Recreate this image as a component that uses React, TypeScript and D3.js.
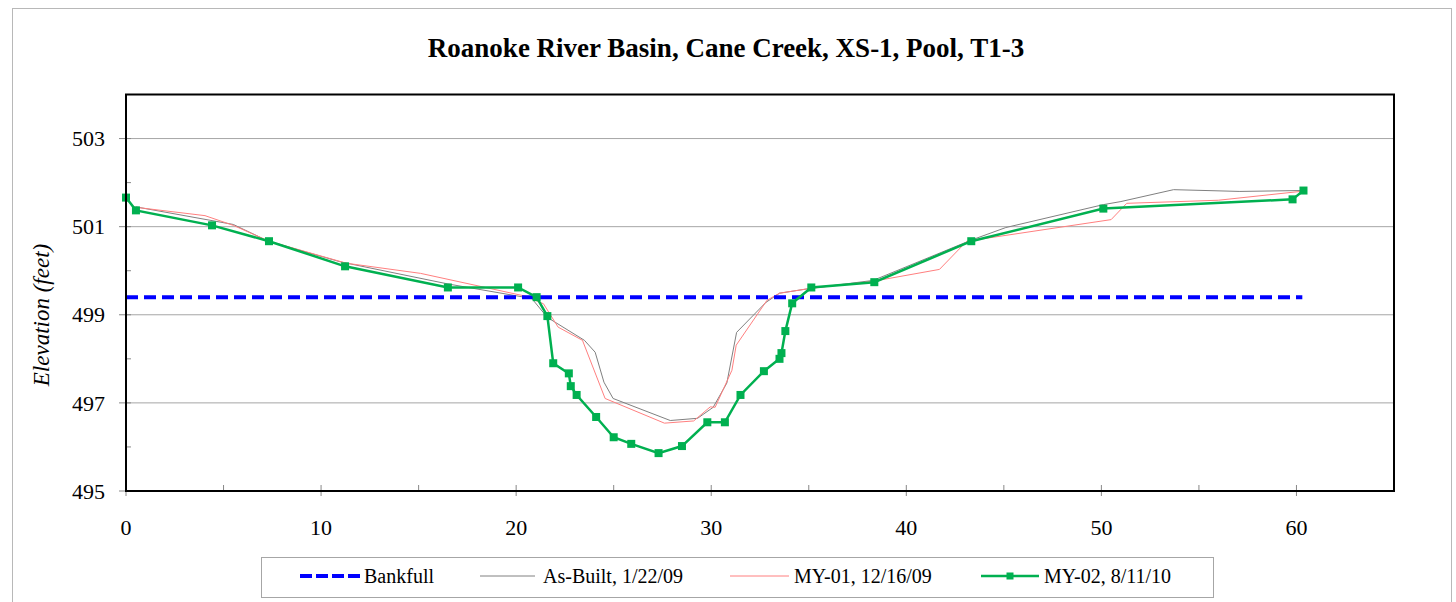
import React from "react";
import * as d3 from "d3";

const xTicks = [0, 10, 20, 30, 40, 50, 60];
const xMinorTicks = [5, 15, 25, 35, 45, 55];
const yTicks = [495, 497, 499, 501, 503];
const yMinorTicks = [496, 498, 500, 502, 504];
const yGrid = [497, 499, 501, 503];

const bankfullX = [0, 60.3];
const bankfullY = [499.4, 499.4];

const asBuiltX = [0.5, 5.5, 7.3, 11.0, 16.5, 20.8, 21.6, 23.5, 24.05, 24.5, 24.97, 27.9, 29.3, 30.1, 30.8, 31.3, 32.8, 33.5, 35.1, 38.3, 43.3, 45.1, 50.1, 51.0, 53.7, 57.1, 60.2];
const asBuiltY = [501.45, 501.05, 500.67, 500.2, 499.7, 499.37, 498.94, 498.42, 498.15, 497.47, 497.1, 496.6, 496.65, 496.9, 497.45, 498.6, 499.28, 499.49, 499.6, 499.78, 500.69, 500.98, 501.5, 501.57, 501.84, 501.8, 501.82];

const my01X = [0.5, 4.05, 5.5, 7.33, 11.3, 15.1, 20.5, 21.4, 22.15, 23.4, 24.56, 27.6, 29.1, 29.95, 30.2, 31.06, 31.28, 32.86, 33.5, 35.1, 38.3, 41.7, 43.1, 50.5, 51.3, 56.0, 60.2];
const my01Y = [501.44, 501.25, 501.03, 500.67, 500.17, 499.94, 499.42, 499.25, 498.72, 498.42, 497.1, 496.54, 496.59, 496.91, 496.9, 497.74, 498.31, 499.33, 499.49, 499.6, 499.76, 500.03, 500.67, 501.16, 501.53, 501.6, 501.8];

const my02X = [0, 0.51, 4.41, 7.33, 11.23, 16.5, 20.1, 21.05, 21.6, 21.9, 22.7, 22.8, 23.1, 24.1, 25.0, 25.9, 27.3, 28.5, 29.8, 30.7, 31.5, 32.7, 33.5, 33.6, 33.8, 34.15, 35.13, 38.36, 43.33, 50.1, 59.8, 60.36];
const my02Y = [501.66, 501.37, 501.03, 500.67, 500.1, 499.62, 499.62, 499.4, 498.97, 497.9, 497.67, 497.38, 497.18, 496.68, 496.22, 496.07, 495.86, 496.02, 496.56, 496.56, 497.18, 497.72, 498.0, 498.13, 498.63, 499.26, 499.62, 499.74, 500.67, 501.41, 501.62, 501.82];

const title = "Roanoke River Basin, Cane Creek, XS-1, Pool, T1-3";
const yLabel = "Elevation (feet)";
const legendLabels = ["Bankfull", "As-Built, 1/22/09", "MY-01, 12/16/09", "MY-02, 8/11/10"];

const FONT = "Liberation Serif, DejaVu Serif, serif";

export default function App() {
  const W = 1456, H = 602;
  const L = 126, R = 1394, T = 94.5, B = 491;
  const x = d3.scaleLinear().domain([0, 65]).range([L, R]);
  const y = d3.scaleLinear().domain([495, 504]).range([B, T]);
  const zip = (xs: number[], ys: number[]) => xs.map((v, i) => [v, ys[i]] as [number, number]);
  const line = d3.line<[number, number]>().x(d => x(d[0])).y(d => y(d[1]));

  const green = "#00B050";
  const my02 = zip(my02X, my02Y);

  const legendY = 576;
  const legendItems = [
    { x1: 300, x2: 361, tx: 364 },
    { x1: 480, x2: 535, tx: 543 },
    { x1: 730, x2: 789, tx: 794 },
    { x1: 981, x2: 1039, tx: 1044 },
  ];
  const ts = { fontFamily: FONT };

  return (
    <svg width={W} height={H} style={{ position: "absolute", left: 0, top: 0, background: "#fff" }}>
      <rect x={12.5} y={8.5} width={1439} height={620} fill="#fff" stroke="#b8b8b8" strokeWidth={1} />
      <text x={726} y={57} textAnchor="middle" fontSize={27} fontWeight="bold" style={ts}>{title}</text>

      {yGrid.map(v => (
        <line key={"g" + v} x1={L} x2={R} y1={y(v)} y2={y(v)} stroke="#a6a6a6" strokeWidth={1} />
      ))}
      {yTicks.map(v => (
        <g key={"yt" + v}>
          <line x1={L - 7} x2={L + 5} y1={y(v)} y2={y(v)} stroke="#888" strokeWidth={1} />
          <text x={105} y={y(v)} dy="0.35em" textAnchor="end" fontSize={22} style={ts}>{v}</text>
        </g>
      ))}
      {yMinorTicks.map(v => (
        <line key={"ym" + v} x1={L} x2={L + 5} y1={y(v)} y2={y(v)} stroke="#888" strokeWidth={1} />
      ))}
      {xTicks.map(v => (
        <g key={"xt" + v}>
          <line x1={x(v)} x2={x(v)} y1={B - 6} y2={B + 5} stroke="#888" strokeWidth={1} />
          <text x={x(v)} y={527} dy="0.35em" textAnchor="middle" fontSize={22} style={ts}>{v}</text>
        </g>
      ))}
      {xMinorTicks.map(v => (
        <line key={"xm" + v} x1={x(v)} x2={x(v)} y1={B - 6} y2={B} stroke="#888" strokeWidth={1} />
      ))}

      <text transform={`translate(49,315) rotate(-90)`} textAnchor="middle" fontSize={23} fontStyle="italic" style={ts}>{yLabel}</text>

      <path d={line(zip(asBuiltX, asBuiltY)) || ""} fill="none" stroke="#808080" strokeWidth={1} />
      <path d={line(zip(my01X, my01Y)) || ""} fill="none" stroke="#ff7f7f" strokeWidth={1} />
      <path d={line(zip(bankfullX, bankfullY)) || ""} fill="none" stroke="#0000ff" strokeWidth={4} strokeDasharray="12 6" />
      <path d={line(my02) || ""} fill="none" stroke={green} strokeWidth={2.5} />
      {my02.map((d, i) => (
        <rect key={"m" + i} x={x(d[0]) - 4} y={y(d[1]) - 4} width={8} height={8} fill={green} />
      ))}

      <rect x={L} y={T} width={R - L} height={B - T} fill="none" stroke="#000" strokeWidth={2} />

      <rect x={261.5} y={557.5} width={952} height={40} fill="#fff" stroke="#a6a6a6" strokeWidth={1} />
      <line x1={legendItems[0].x1} x2={legendItems[0].x2} y1={legendY} y2={legendY} stroke="#0000ff" strokeWidth={4} strokeDasharray="12 4" />
      <line x1={legendItems[1].x1} x2={legendItems[1].x2} y1={legendY} y2={legendY} stroke="#808080" strokeWidth={1} />
      <line x1={legendItems[2].x1} x2={legendItems[2].x2} y1={legendY} y2={legendY} stroke="#ff7f7f" strokeWidth={1} />
      <line x1={legendItems[3].x1} x2={legendItems[3].x2} y1={legendY} y2={legendY} stroke={green} strokeWidth={2.5} />
      <rect x={(legendItems[3].x1 + legendItems[3].x2) / 2 - 3.5} y={legendY - 3.5} width={7} height={7} fill={green} />
      {legendLabels.map((t, i) => (
        <text key={t} x={legendItems[i].tx} y={legendY} dy="0.35em" fontSize={20} style={ts}>{t}</text>
      ))}
    </svg>
  );
}
